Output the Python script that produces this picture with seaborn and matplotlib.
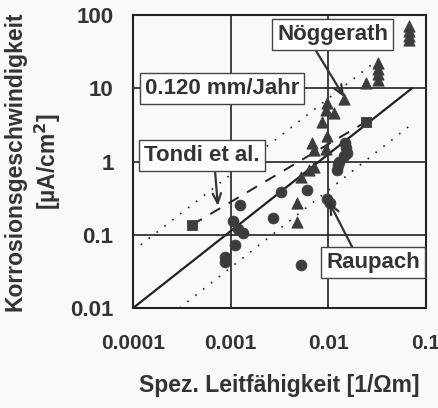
import matplotlib
matplotlib.use("Agg")
import matplotlib.pyplot as plt
import seaborn as sns
import pandas as pd

# Raupach (circles)
raupach_x = [0.00088, 0.00088, 0.0011, 0.00105, 0.0012, 0.00135, 0.00124, 0.0027,
             0.0033, 0.0061, 0.0053, 0.0098, 0.0105, 0.0124, 0.0127, 0.0129,
             0.0145, 0.0152, 0.0157, 0.015]
raupach_y = [0.05, 0.042, 0.073, 0.155, 0.12, 0.105, 0.256, 0.17,
             0.38, 0.41, 0.039, 0.31, 0.27, 0.77, 0.9, 1.0,
             1.2, 1.55, 1.3, 1.8]

# Noeggerath (triangles)
noegg_x = [0.0048, 0.0048, 0.0053, 0.0064, 0.0072, 0.0069, 0.0072, 0.0095, 0.0098,
           0.0087, 0.0115, 0.0095, 0.0098, 0.0146, 0.0245, 0.0324, 0.0324, 0.0324,
           0.0324, 0.067, 0.067, 0.067, 0.067]
noegg_y = [0.15, 0.27, 0.62, 0.77, 0.85, 1.8, 1.45, 1.5, 2.2,
           3.5, 4.6, 5.1, 6.3, 7.1, 11.8, 13.2, 15.5, 18.5,
           22.0, 45.0, 52.0, 60.0, 70.0]

# Tondi et al. (squares)
tondi_x = [0.0004, 0.0245]
tondi_y = [0.136, 3.5]

# reference lines
fit_x = [0.0001, 0.072]
fit_y = [0.01, 10.0]
upper_x = [0.00012, 0.035]
upper_y = [0.073, 26.7]
lower_x = [0.0003, 0.07]
lower_y = [0.01, 3.16]

xticks = [0.0001, 0.001, 0.01, 0.1]
xticklabels = ["0.0001", "0.001", "0.01", "0.1"]
yticks = [0.01, 0.1, 1, 10, 100]
yticklabels = ["0.01", "0.1", "1", "10", "100"]

sns.set_style("white")
plt.rcParams["font.family"] = ["Liberation Sans", "DejaVu Sans"]
plt.rcParams["font.weight"] = "bold"
txt = "#333333"
mk = "#3c3c3c"

fig = plt.figure(figsize=(4.39, 4.08), dpi=100, facecolor="#f8f9f9")
ax = fig.add_axes([0.303, 0.245, 0.667, 0.718])
ax.set_facecolor("#f8f9f9")

lines = [(fit_x, fit_y, "-", 1.6), (upper_x, upper_y, (0, (1, 5)), 1.2),
         (lower_x, lower_y, (0, (1, 5)), 1.2), (tondi_x, tondi_y, (0, (6, 5)), 1.4)]
for lx, ly, ls, lw in lines:
    sns.lineplot(x=lx, y=ly, ax=ax, color="#222222", linestyle=ls, linewidth=lw,
                 estimator=None, sort=False, zorder=3)

sns.scatterplot(x=raupach_x, y=raupach_y, ax=ax, marker="o", s=60, color=mk,
                edgecolor=mk, zorder=4)
sns.scatterplot(x=noegg_x, y=noegg_y, ax=ax, marker="^", s=65, color=mk,
                edgecolor=mk, zorder=4)
sns.scatterplot(x=tondi_x, y=tondi_y, ax=ax, marker="s", s=55, color=mk,
                edgecolor=mk, zorder=4)

ax.set_xscale("log")
ax.set_yscale("log")
ax.set_xlim(0.0001, 0.1)
ax.set_ylim(0.01, 100)
ax.set_xticks(xticks)
ax.set_xticklabels(xticklabels)
ax.set_yticks(yticks)
ax.set_yticklabels(yticklabels)
ax.minorticks_off()
ax.tick_params(axis="x", length=0, pad=19, labelsize=15, labelcolor=txt)
ax.tick_params(axis="y", length=0, pad=14, labelsize=16, labelcolor=txt)
ax.grid(True, which="major", color="#222222", linewidth=1.2)
ax.set_axisbelow(True)
for sp in ax.spines.values():
    sp.set_color("#222222")
    sp.set_linewidth(1.5)

ax.set_xlabel("Spez. Leitfähigkeit [1/\u03a9m]", fontsize=16.5, fontweight="bold",
              color=txt, labelpad=15)
ax.set_ylabel("Korrosionsgeschwindigkeit\n[\u00b5A/cm$^\\mathbf{2}$]", fontsize=16.5,
              fontweight="bold", color=txt, labelpad=5, linespacing=1.3)

box = dict(boxstyle="square,pad=0.22", facecolor="white", edgecolor="#444444",
           linewidth=1.0)
labels = [("Nöggerath", 0.0111, 54.2), ("0.120 mm/Jahr", 0.00082, 10.0),
          ("Tondi et al.", 0.00051, 1.21), ("Raupach", 0.0288, 0.042)]
for t, lx, ly in labels:
    ax.text(lx, ly, t, fontsize=16, fontweight="bold", color=txt, ha="center",
            va="center", bbox=box, zorder=6)

arrows = [((0.0146, 7.6), (0.0072, 35.5)), ((0.00074, 0.248), (0.00069, 0.79)),
          ((0.0102, 0.28), (0.0176, 0.068))]
for tip, start in arrows:
    ax.annotate("", xy=tip, xytext=start, zorder=5,
                arrowprops=dict(arrowstyle="->,head_length=0.7,head_width=0.3",
                                color="#333333", linewidth=1.6,
                                shrinkA=0, shrinkB=0))

fig.savefig("out.png", dpi=100, facecolor=fig.get_facecolor())
